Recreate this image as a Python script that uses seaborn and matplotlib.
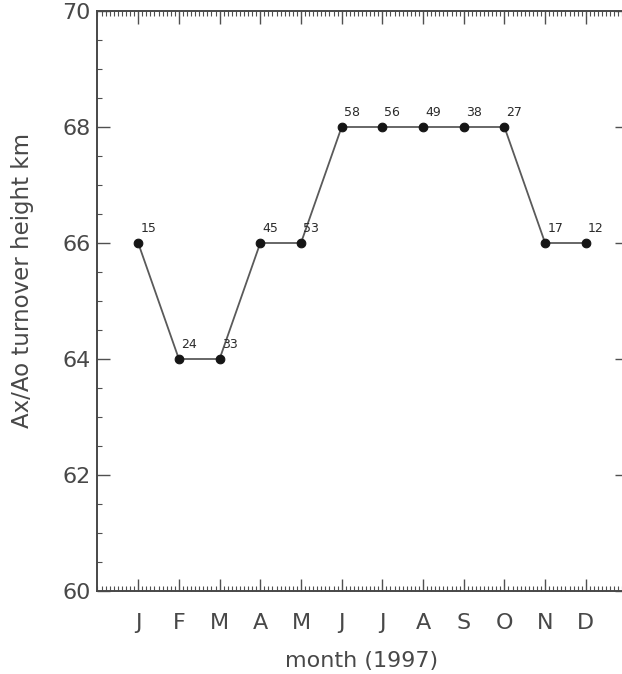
import matplotlib
matplotlib.use("Agg")
import matplotlib.pyplot as plt
from matplotlib.ticker import MultipleLocator
import seaborn as sns
import pandas as pd

# Monthly turnover heights and the sample counts printed beside each point
months = ["J", "F", "M", "A", "M", "J", "J", "A", "S", "O", "N", "D"]
month_index = list(range(1, 13))
height_km = [66, 64, 64, 66, 66, 68, 68, 68, 68, 68, 66, 66]
counts = [15, 24, 33, 45, 53, 58, 56, 49, 38, 27, 17, 12]

df = pd.DataFrame({"month": month_index, "height": height_km, "n": counts})

sns.set_theme(style="white")
plt.rcParams["font.family"] = ["DejaVu Sans"]

text_color = "#484848"
W, H = 622, 674
fig = plt.figure(figsize=(W / 100, H / 100), dpi=100)
fig.patch.set_facecolor("white")
ax = fig.add_axes([97.5 / W, (H - 591) / H, 529 / W, 580 / H])
ax.set_facecolor("white")

sns.lineplot(data=df, x="month", y="height", ax=ax, color="#5a5a5a",
             linewidth=1.3, marker="o", markersize=6.2,
             markerfacecolor="#151515", markeredgecolor="#151515",
             markeredgewidth=0.8)

for m, h, n in zip(month_index, height_km, counts):
    ax.annotate(str(n), xy=(m, h), xytext=(1.5, 8), textcoords="offset points",
                ha="left", va="baseline", fontsize=9, color="#2a2a2a")

ax.set_xlim(0, 13)
ax.set_ylim(60, 70)

ax.set_xticks(month_index)
ax.set_xticklabels(months)
ax.xaxis.set_minor_locator(MultipleLocator(0.1))
ax.yaxis.set_major_locator(MultipleLocator(2))
ax.yaxis.set_minor_locator(MultipleLocator(0.5))

ax.tick_params(which="both", direction="in", top=True, right=True,
               bottom=True, left=True, color="#505050")
ax.tick_params(which="major", length=9, width=1.0)
ax.tick_params(which="minor", length=3.8, width=0.8)
ax.tick_params(axis="x", which="major", pad=16, labelsize=16, labelcolor=text_color)
ax.tick_params(axis="y", which="major", pad=5, labelsize=16, labelcolor=text_color)

for s in ax.spines.values():
    s.set_color("#484848")
    s.set_linewidth(1.4)

ax.set_xlabel("month (1997)", fontsize=16, color=text_color, labelpad=13)
ax.set_ylabel("Ax/Ao turnover height km", fontsize=16.5, color=text_color)
ax.yaxis.set_label_coords(-0.12, 0.535)

fig.savefig("out.png", dpi=100, facecolor="white")
